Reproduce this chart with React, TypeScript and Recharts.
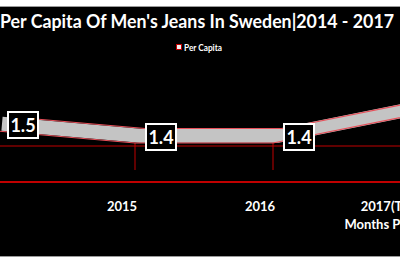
import React from 'react';
import { AreaChart, Line, XAxis, YAxis, ReferenceLine, LabelList } from 'recharts';

// data
const years = ['2014', '2015', '2016', '2017'];
const perCapita = [1.5, 1.4, 1.4, 1.63];
const tickLines: string[][] = [['2014'], ['2015'], ['2016'], ['2017(Twelve', 'Months Projected)']];

const data = years.map((year, i) => ({ year, perCapita: perCapita[i] }));

// fake 3D: the ribbon's back edge is the front edge shifted by depth
const FRONT: [number, number] = [1.075, 2.075];
const DEPTH = 0.121;
const MID: [number, number] = [FRONT[0] - DEPTH / 2, FRONT[1] - DEPTH / 2];
const BACK: [number, number] = [FRONT[0] - DEPTH, FRONT[1] - DEPTH];
const FLOOR_LINE = 1.375;
const DROP_END = 1.175;

const RED = '#c00000';
const EDGE = '#e8505a';
const FONT = 'Lato, "Open Sans", sans-serif';

function YearTick(props: any) {
  const { x, y, index } = props;
  const lines = tickLines[index] || [String(props.payload.value)];
  return (
    <text x={x - 13} y={y + 27} textAnchor="middle" fill="#fff" fontFamily={FONT} fontWeight={700} fontSize={13}>
      {lines.map((l, i) => (
        <tspan key={i} x={x - 13} dy={i === 0 ? 0 : 18}>
          {l}
        </tspan>
      ))}
    </text>
  );
}

function ValueBox(props: any) {
  const { x, y, value } = props;
  return (
    <g>
      <rect x={x + 11} y={y - 19} width={30} height={26} fill="#000" stroke="#fff" strokeWidth={2} />
      <text x={x + 26} y={y + 0.5} textAnchor="middle" fill="#fff" fontFamily={FONT} fontWeight={700} fontSize={18}>
        {Number(value).toFixed(1)}
      </text>
    </g>
  );
}

export default function App() {
  return (
    <div style={{ position: 'absolute', top: 0, left: 0, width: 400, height: 266, overflow: 'hidden', background: '#fff' }}>
      <div style={{ position: 'absolute', top: 6, left: 0, width: 400, height: 249, background: '#000', borderTop: '1px solid #9a9a9a', borderBottom: '1px solid #9a9a9a' }} />
      <svg width={400} height={60} style={{ position: 'absolute', top: 0, left: 0 }}>
        <text x={0} y={28} textLength={394} lengthAdjust="spacingAndGlyphs" fill="#fff" fontFamily={FONT} fontWeight={700} fontSize={19}>
          Per Capita Of Men's Jeans In Sweden|2014 - 2017
        </text>
        <rect x={176.5} y={44.5} width={5} height={5} fill="#f2f2f2" stroke={RED} strokeWidth={1} />
        <text x={184} y={50.5} textLength={38} lengthAdjust="spacingAndGlyphs" fill="#fff" fontFamily={FONT} fontWeight={700} fontSize={9}>
          Per Capita
        </text>
      </svg>
      <div style={{ position: 'absolute', top: 0, left: -13 }}>
        <AreaChart width={444} height={266} data={data} margin={{ top: 62, right: 10, bottom: 54, left: 10 }}>
          <XAxis xAxisId="mid" dataKey="year" hide height={0} padding={{ left: 5, right: 5 }} />
          <XAxis xAxisId="back" dataKey="year" hide height={0} padding={{ left: 10, right: 0 }} />
          <XAxis
            xAxisId="front"
            dataKey="year"
            padding={{ left: 0, right: 10 }}
            axisLine={{ stroke: RED, strokeWidth: 2 }}
            tickLine={false}
            tickSize={0}
            tick={<YearTick />}
            interval={0}
            height={30}
          />
          <YAxis yAxisId="front" hide domain={FRONT} />
          <YAxis yAxisId="mid" hide domain={MID} />
          <YAxis yAxisId="back" hide domain={BACK} />
          <ReferenceLine xAxisId="front" yAxisId="front" y={FLOOR_LINE} stroke={RED} strokeWidth={1} />
          {data.map((d) => (
            <ReferenceLine
              key={d.year}
              xAxisId="front"
              yAxisId="front"
              segment={[{ x: d.year, y: d.perCapita }, { x: d.year, y: DROP_END }]}
              stroke={RED}
              strokeWidth={1}
            />
          ))}
          <Line
            xAxisId="mid"
            yAxisId="mid"
            dataKey="perCapita"
            stroke="#c4c4c4"
            strokeWidth={14}
            strokeLinejoin="miter"
            dot={false}
            activeDot={false}
            isAnimationActive={false}
            legendType="none"
          />
          <Line
            xAxisId="back"
            yAxisId="back"
            dataKey="perCapita"
            stroke={EDGE}
            strokeWidth={1.2}
            dot={false}
            activeDot={false}
            isAnimationActive={false}
          />
          <Line
            xAxisId="front"
            yAxisId="front"
            dataKey="perCapita"
            name="Per Capita"
            stroke={EDGE}
            strokeWidth={1.2}
            dot={false}
            activeDot={false}
            isAnimationActive={false}
          >
            <LabelList dataKey="perCapita" content={<ValueBox />} />
          </Line>
        </AreaChart>
      </div>
    </div>
  );
}
